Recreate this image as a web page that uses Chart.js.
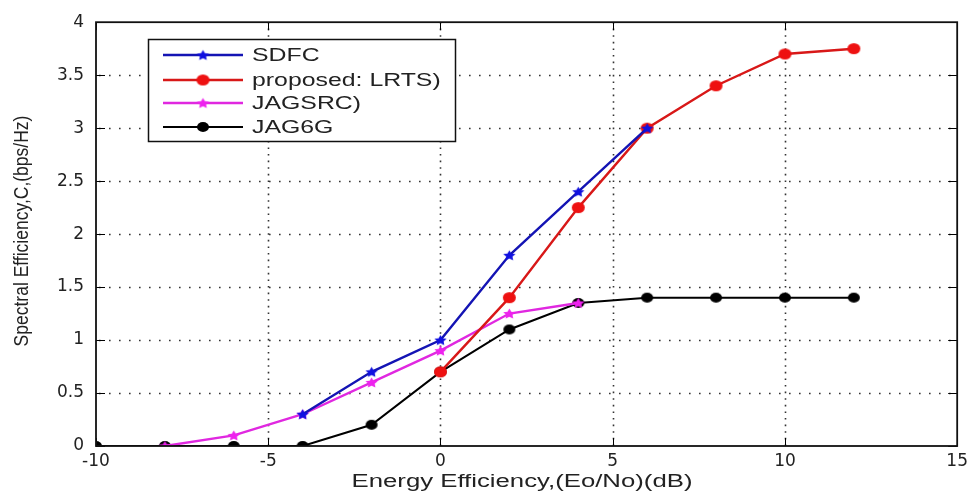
<!DOCTYPE html>
<html><head><meta charset="utf-8">
<script src="https://cdn.jsdelivr.net/npm/chart.js@4.4.0/dist/chart.umd.min.js"></script>
<style>html,body{margin:0;padding:0;background:#fff}#wrap{width:973px;height:495px}</style>
</head><body><div id="wrap"><canvas id="c" width="973" height="495"></canvas></div>
<script>
const xTickValues = [-10, -5, 0, 5, 10, 15];
const yTickValues = [0, 0.5, 1, 1.5, 2, 2.5, 3, 3.5, 4];
const sdfcX = [-4, -2, 0, 2, 4, 6];
const sdfcY = [0.3, 0.7, 1.0, 1.8, 2.4, 3.0];
const lrtsX = [0, 2, 4, 6, 8, 10, 12];
const lrtsY = [0.7, 1.4, 2.25, 3.0, 3.4, 3.7, 3.75];
const jagsrcX = [-8, -6, -4, -2, 0, 2, 4];
const jagsrcY = [0, 0.1, 0.3, 0.6, 0.9, 1.25, 1.35];
const jag6gX = [-10, -8, -6, -4, -2, 0, 2, 4, 6, 8, 10, 12];
const jag6gY = [0, 0, 0, 0, 0.2, 0.7, 1.1, 1.35, 1.4, 1.4, 1.4, 1.4];
const seriesLabels = ['SDFC', 'proposed: LRTS)', 'JAGSRC)', 'JAG6G'];
const xTitle = 'Energy Efficiency,(Eo/No)(dB)';
const yTitle = 'Spectral Efficiency,C,(bps/Hz)';

const pts = (xs, ys) => xs.map((x, i) => ({x, y: ys[i]}));
const FONT = '"Liberation Sans", Arial, sans-serif';
const TICKFONT = '"DejaVu Sans", sans-serif';

function starImg(color, w, h) {
  const c = document.createElement('canvas');
  c.width = w + 2; c.height = h + 2;
  const g = c.getContext('2d');
  g.translate(c.width / 2, c.height / 2 + 0.5);
  g.scale(w / 2, h / 2);
  g.beginPath();
  for (let i = 0; i < 10; i++) {
    const r = i % 2 === 0 ? 1 : 0.5;
    const a = -Math.PI / 2 + i * Math.PI / 5;
    g.lineTo(r * Math.cos(a), r * Math.sin(a));
  }
  g.closePath();
  g.fillStyle = color; g.fill();
  return c;
}
function ellImg(color, w, h) {
  const c = document.createElement('canvas');
  c.width = w + 2; c.height = h + 2;
  const g = c.getContext('2d');
  g.beginPath();
  g.ellipse(c.width / 2, c.height / 2, w / 2, h / 2, 0, 0, Math.PI * 2);
  g.fillStyle = color; g.fill();
  return c;
}
const mBlue = starImg('#1010e0', 13, 11);
const mRed = ellImg('#ee1111', 13, 11);
const mMag = starImg('#ee22ee', 13, 11);
const mBlack = ellImg('#000000', 12, 10);

function stretchedText(ctx, text, x, y, sx, align) {
  ctx.save();
  ctx.translate(x, y);
  ctx.scale(sx, 1);
  ctx.textAlign = align || 'left';
  ctx.fillText(text, 0, 0);
  ctx.restore();
}

const boxPlugin = {
  id: 'boxPlugin',
  beforeDatasetsDraw(chart) {
    const {ctx, chartArea: a, scales} = chart;
    ctx.save();
    ctx.strokeStyle = '#333';
    ctx.lineWidth = 1.6;
    ctx.setLineDash([1.6, 8.4]);
    yTickValues.slice(1, -1).forEach(v => {
      const py = Math.round(scales.y.getPixelForValue(v)) + 0.5;
      ctx.beginPath(); ctx.moveTo(a.left + 3, py); ctx.lineTo(a.right, py); ctx.stroke();
    });
    ctx.setLineDash([1.6, 5]);
    xTickValues.slice(1, -1).forEach(v => {
      const px = Math.round(scales.x.getPixelForValue(v)) + 0.5;
      ctx.beginPath(); ctx.moveTo(px, a.bottom); ctx.lineTo(px, a.top); ctx.stroke();
    });
    ctx.restore();
  },
  afterDatasetsDraw(chart) {
    const {ctx, chartArea: a, scales} = chart;
    ctx.save();
    ctx.strokeStyle = '#000';
    ctx.lineWidth = 1;
    ctx.beginPath();
    xTickValues.forEach(v => {
      const px = Math.round(scales.x.getPixelForValue(v)) + 0.5;
      ctx.moveTo(px, a.bottom); ctx.lineTo(px, a.bottom - 8);
      ctx.moveTo(px, a.top); ctx.lineTo(px, a.top + 8);
    });
    yTickValues.forEach(v => {
      const py = Math.round(scales.y.getPixelForValue(v)) + 0.5;
      ctx.moveTo(a.left, py); ctx.lineTo(a.left + 9, py);
      ctx.moveTo(a.right, py); ctx.lineTo(a.right - 9, py);
    });
    ctx.stroke();
    ctx.lineWidth = 1.8;
    ctx.strokeStyle = '#111';
    ctx.strokeRect(a.left, a.top, a.right - a.left, a.bottom - a.top);

    // axis titles
    ctx.fillStyle = '#222';
    ctx.textBaseline = 'middle';
    ctx.font = '18px ' + FONT;
    stretchedText(ctx, xTitle, 522, 482, 1.43, 'center');
    ctx.save();
    ctx.translate(22, 231);
    ctx.scale(1.2, 1);
    ctx.rotate(-Math.PI / 2);
    ctx.font = '17.5px ' + FONT;
    ctx.textAlign = 'center';
    ctx.fillText(yTitle, 0, 0);
    ctx.restore();

    // legend
    const lx = 148, ly = 39, lw = 307, lh = 102;
    ctx.fillStyle = '#fff';
    ctx.fillRect(lx, ly, lw, lh);
    ctx.lineWidth = 1.5;
    ctx.strokeStyle = '#111';
    ctx.strokeRect(lx + 0.5, ly + 0.5, lw, lh);
    const rows = [55, 80, 103, 127];
    ctx.font = '18px ' + FONT;
    ctx.textBaseline = 'middle';
    chart.data.datasets.forEach((ds, i) => {
      const y = rows[i];
      ctx.strokeStyle = ds.borderColor;
      ctx.lineWidth = ds.borderWidth;
      ctx.beginPath(); ctx.moveTo(163, y); ctx.lineTo(243, y); ctx.stroke();
      const img = ds.pointStyle;
      ctx.drawImage(img, 203 - img.width / 2, y - img.height / 2);
      ctx.fillStyle = '#222';
      stretchedText(ctx, ds.label, 252, y + 1, 1.38, 'left');
    });
    ctx.restore();
  }
};

new Chart(document.getElementById('c'), {
  type: 'scatter',
  data: {
    datasets: [
      {label: seriesLabels[0], data: pts(sdfcX, sdfcY), borderColor: '#1414b4', pointStyle: mBlue, borderWidth: 2.4, showLine: true},
      {label: seriesLabels[1], data: pts(lrtsX, lrtsY), borderColor: '#d81818', pointStyle: mRed, borderWidth: 2.4, showLine: true},
      {label: seriesLabels[2], data: pts(jagsrcX, jagsrcY), borderColor: '#e028e0', pointStyle: mMag, borderWidth: 2.4, showLine: true},
      {label: seriesLabels[3], data: pts(jag6gX, jag6gY), borderColor: '#000000', pointStyle: mBlack, borderWidth: 2, showLine: true}
    ]
  },
  options: {
    responsive: false,
    animation: false,
    layout: {padding: {top: 16, right: 12, left: 0, bottom: 0}},
    plugins: {legend: {display: false}, tooltip: {enabled: false}},
    elements: {point: {radius: 6}},
    scales: {
      x: {
        type: 'linear', min: -10, max: 15,
        afterBuildTicks: s => { s.ticks = xTickValues.map(v => ({value: v})); },
        afterFit: s => { s.height = 49; },
        grid: {display: false, drawTicks: false},
        border: {display: false},
        ticks: {color: '#222', font: {family: TICKFONT, size: 17}, padding: 5, callback: v => String(v)},
        title: {display: false, text: xTitle}
      },
      y: {
        min: 0, max: 4,
        afterBuildTicks: s => { s.ticks = yTickValues.map(v => ({value: v})); },
        afterFit: s => { s.width = 96; },
        grid: {display: false, drawTicks: false},
        border: {display: false},
        ticks: {color: '#222', font: {family: TICKFONT, size: 17}, padding: 12, callback: v => String(v)},
        title: {display: false, text: yTitle}
      }
    }
  },
  plugins: [boxPlugin]
});
</script></body></html>
